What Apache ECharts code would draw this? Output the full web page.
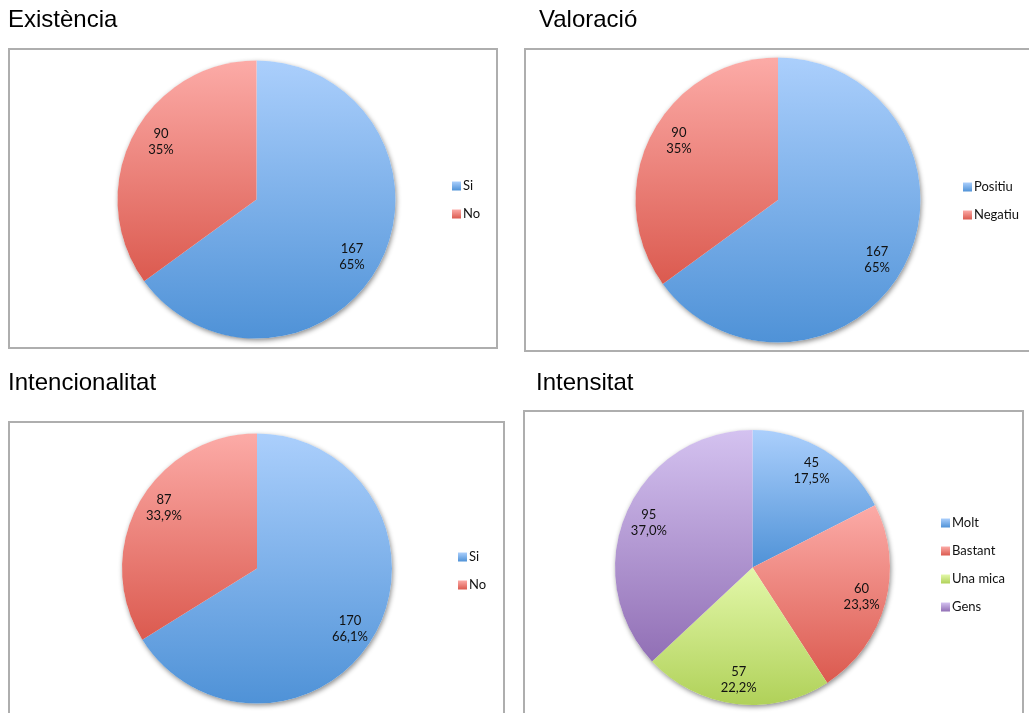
<!DOCTYPE html>
<html>
<head>
<meta charset="utf-8">
<script src="https://cdn.jsdelivr.net/npm/echarts@6/dist/echarts.min.js"></script>
<style>
  html, body { margin: 0; padding: 0; background: #ffffff; }
  #chart { width: 1029px; height: 713px; }
</style>
</head>
<body>
<div id="chart"></div>
<script>
// Survey results: four pie charts
const titleTexts = ['Existència', 'Valoració', 'Intencionalitat', 'Intensitat'];

const existenciaCats = ['Si', 'No'];
const existenciaVals = [167, 90];

const valoracioCats = ['Positiu', 'Negatiu'];
const valoracioVals = [167, 90];

const intencionalitatCats = ['Si', 'No'];
const intencionalitatVals = [170, 87];

const intensitatCats = ['Molt', 'Bastant', 'Una mica', 'Gens'];
const intensitatVals = [45, 60, 57, 95];

// decimals shown in each chart's percentage labels
const pctDecimals = [0, 0, 1, 1];

// slice gradients (top, bottom)
const sliceColors = [
  ['#abcffc', '#4f92d7'],
  ['#fcaba7', '#db5a4f'],
  ['#e3f8aa', '#b0d159'],
  ['#d4c2f0', '#916fb5']
];

const panels = [
  { cats: existenciaCats, vals: existenciaVals, title: [8, 8],
    box: [9, 49, 488, 299], center: [256.5, 199.5], r: 139, legend: [452, 178],
    labelScale: 1.56, labelStart: 86 },
  { cats: valoracioCats, vals: valoracioVals, title: [539, 8],
    box: [525, 49, 530, 302], center: [778, 200], r: 142.5, legend: [963, 179],
    labelScale: 1.58, labelStart: 86 },
  { cats: intencionalitatCats, vals: intencionalitatVals, title: [8, 371.5],
    box: [9, 422, 495, 400], center: [257, 568.5], r: 135, legend: [458, 549],
    labelScale: 1.6, labelStart: 86 },
  { cats: intensitatCats, vals: intensitatVals, title: [536, 371.5],
    box: [524, 411, 499, 400], center: [752.5, 567.5], r: 137.5, legend: [941, 515],
    labelScale: 1.6, labelStart: 90 }
];

function grad(i) {
  const c = sliceColors[i];
  return new echarts.graphic.LinearGradient(0, 0, 0, 1, [
    { offset: 0, color: c[0] },
    { offset: 1, color: c[1] }
  ]);
}

function fmtPct(v, d) {
  return v.toFixed(d).replace('.', ',') + '%';
}

const chart = echarts.init(document.getElementById('chart'), null, { renderer: 'canvas' });

const title = [];
const legend = [];
const series = [];
const graphic = [];

panels.forEach(function (p, k) {
  const total = p.vals.reduce(function (a, b) { return a + b; }, 0);
  const items = p.cats.map(function (name, i) {
    return { name: name, value: p.vals[i], itemStyle: { color: grad(i) } };
  });

  graphic.push({
    type: 'rect', silent: true, z: 0,
    shape: { x: p.box[0], y: p.box[1], width: p.box[2], height: p.box[3] },
    style: { fill: 'none', stroke: '#aeaeae', lineWidth: 2 }
  });

  title.push({
    text: titleTexts[k], left: p.title[0], top: p.title[1], padding: 0,
    textStyle: { fontFamily: 'Liberation Sans', fontSize: 24, fontWeight: 'normal', color: '#000000' }
  });

  legend.push({
    orient: 'vertical', left: p.legend[0], top: p.legend[1], padding: 0,
    data: p.cats, icon: 'rect', itemWidth: 9, itemHeight: 9, itemGap: 12,
    selectedMode: false,
    itemStyle: { borderWidth: 0 },
    textStyle: { fontFamily: 'Lato', fontSize: 13, lineHeight: 16, color: '#111111', padding: [0, 0, 0, -3] }
  });

  // soft drop shadow under the whole pie
  series.push({
    type: 'pie', silent: true, z: 1,
    center: p.center, radius: p.r, startAngle: 90,
    label: { show: false }, labelLine: { show: false },
    emphasis: { disabled: true },
    data: [{ name: '', value: total }],
    itemStyle: { color: '#ffffff', shadowBlur: 5, shadowOffsetX: 1, shadowOffsetY: 2, shadowColor: 'rgba(0,0,0,0.45)' }
  });

  // slices
  series.push({
    type: 'pie', z: 2,
    center: p.center, radius: p.r, startAngle: 90, clockwise: true,
    label: { show: false }, labelLine: { show: false },
    emphasis: { disabled: true },
    itemStyle: { borderWidth: 0 },
    data: items
  });

  // value / percentage labels, placed inside each slice
  series.push({
    type: 'pie', silent: true, z: 3,
    center: p.center, radius: p.r * p.labelScale, startAngle: p.labelStart, clockwise: true,
    avoidLabelOverlap: false,
    itemStyle: { color: 'rgba(0,0,0,0)' },
    labelLine: { show: false },
    emphasis: { disabled: true },
    label: {
      show: true, position: 'inside',
      fontFamily: 'Lato', fontSize: 13, lineHeight: 16, color: '#111111',
      formatter: function (q) {
        return q.value + '\n' + fmtPct(q.value / total * 100, pctDecimals[k]);
      }
    },
    data: p.cats.map(function (name, i) { return { name: name, value: p.vals[i] }; })
  });
});

chart.setOption({
  animation: false,
  backgroundColor: '#ffffff',
  title: title,
  legend: legend,
  graphic: graphic,
  series: series
});
</script>
</body>
</html>
